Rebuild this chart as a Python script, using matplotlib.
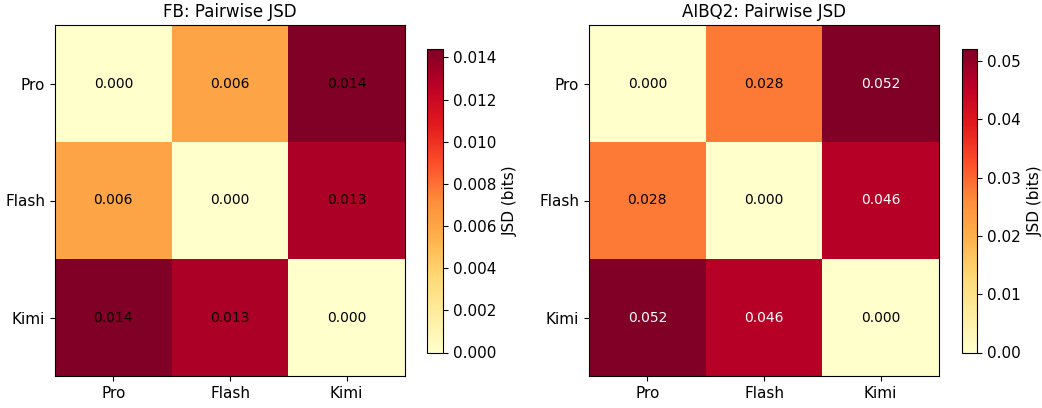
import numpy as np
import matplotlib
matplotlib.use("Agg")
import matplotlib.pyplot as plt

models = ["Pro", "Flash", "Kimi"]
fb_jsd = np.array([
    [0.0000, 0.0060, 0.0144],
    [0.0060, 0.0000, 0.0130],
    [0.0144, 0.0130, 0.0000],
])
aibq2_jsd = np.array([
    [0.0000, 0.0280, 0.0521],
    [0.0280, 0.0000, 0.0460],
    [0.0521, 0.0460, 0.0000],
])
titles = ["FB: Pairwise JSD", "AIBQ2: Pairwise JSD"]

W, H = 1042, 408
fig = plt.figure(figsize=(W / 100, H / 100), dpi=100)

def frac(x0, y0, x1, y1):
    return [x0 / W, (H - y1) / H, (x1 - x0) / W, (y1 - y0) / H]

ax_boxes = [frac(55, 25, 405, 376), frac(589, 25, 939, 376)]
cb_boxes = [frac(427, 49, 443, 352.5), frac(961.5, 49, 977, 352.5)]

for data, title, axb, cbb in zip([fb_jsd, aibq2_jsd], titles, ax_boxes, cb_boxes):
    ax = fig.add_axes(axb)
    vmax = data.max()
    im = ax.imshow(data, cmap="YlOrRd", vmin=0, vmax=vmax, aspect="auto")
    ax.set_xticks(range(len(models)))
    ax.set_xticklabels(models, fontsize=11)
    ax.set_yticks(range(len(models)))
    ax.set_yticklabels(models, fontsize=11)
    ax.set_title(title, fontsize=12)
    for i in range(len(models)):
        for j in range(len(models)):
            v = data[i, j]
            color = "white" if v > 0.04 else "black"
            ax.text(j, i, f"{v:.3f}", ha="center", va="center", color=color, fontsize=10)
    cax = fig.add_axes(cbb)
    cb = fig.colorbar(im, cax=cax)
    cb.set_label("JSD (bits)", fontsize=11, labelpad=5)
    cb.ax.tick_params(labelsize=11)

fig.savefig("out.png", dpi=100)
